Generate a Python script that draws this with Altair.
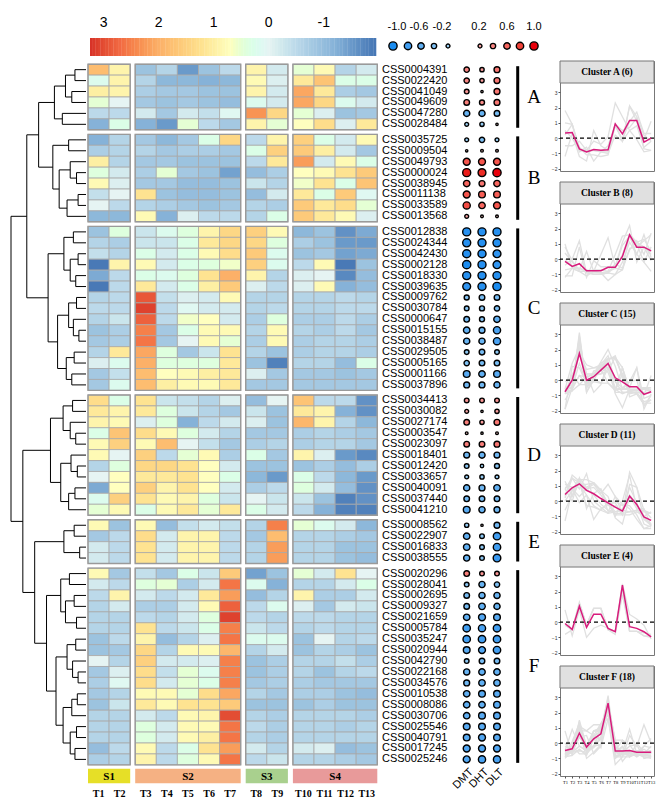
import altair as alt
import pandas as pd
import numpy as np

# ---------------- data ----------------
TIMES = ["T1", "T2", "T3", "T4", "T5", "T6", "T7", "T8", "T9", "T10", "T11", "T12", "T13"]
TIME_GROUP = [0, 0, 1, 1, 1, 1, 1, 2, 2, 3, 3, 3, 3]
GROUPS = ["S1", "S2", "S3", "S4"]
GROUP_COLORS = ["#e6df27", "#f5b183", "#a9d08e", "#e89a9a"]
DOT_COLS = ["DMT", "DHT", "DLT"]
CLUSTERS = ["A", "B", "C", "D", "E", "F"]

GENES_A = ["CSS0004391", "CSS0022420", "CSS0041049", "CSS0049609", "CSS0047280", "CSS0028484"]
HEAT_A = [
    [1.8, 0.9, -0.9, -0.6, -1.5, -0.9, -0.5, 0.9, -0.2, 0.5, 0.8, -0.6, -0.2],
    [0.2, 0.9, -0.6, -1.1, -1.1, -1.2, -1.1, 0.8, -0.1, 1.1, 1.7, 0.3, 0.3],
    [1.0, 0.9, -0.7, -0.8, -0.8, -0.9, -0.9, 0.9, -0.2, 2.1, 1.1, -0.7, -0.8],
    [0.5, 0.0, -0.8, -0.9, -0.8, -0.9, -1.0, 0.2, -0.2, 2.1, 1.4, 0.2, -0.2],
    [-0.5, -0.5, -0.2, -0.8, -0.2, -0.4, 0.1, 2.3, 1.4, 0.5, -0.1, -0.9, -0.8],
    [-1.2, 0.3, -1.2, -1.5, 0.5, -0.5, -0.8, 0.9, 0.5, 0.7, 1.3, -0.1, 1.1],
]
DOTS_A = [[0.4, 0.25, 0.5], [0.4, 0.25, 0.5], [0.3, 0.05, 0.5], [0.45, 0.35, 0.5],
          [-0.55, -0.55, -0.45], [-0.2, -0.25, 0.05]]
MEAN_A = [0.33, 0.37, -0.7, -0.9, -0.74, -0.8, -0.76, 0.93, 0.28, 1.15, 1.15, -0.26, 0.0]

GENES_B = ["CSS0035725", "CSS0009504", "CSS0049793", "CSS0000024", "CSS0038945",
           "CSS0011138", "CSS0033589", "CSS0013568"]
HEAT_B = [
    [-1.2, -0.6, -0.8, -1.1, -0.8, 0.3, 1.4, -0.5, 0.9, 1.5, 0.3, -0.2, 0.8],
    [-0.7, -0.6, -0.6, -0.8, -0.7, -0.7, -0.8, 0.3, 1.5, 1.6, 1.0, -0.2, -0.8],
    [1.0, -0.6, -0.8, -0.8, -0.9, -0.9, -0.9, -0.5, 1.1, 2.2, -0.2, 0.8, 0.3],
    [0.4, -0.2, -0.7, 0.5, -0.8, -0.9, -1.4, -1.0, -0.7, 0.7, 0.8, 1.2, 1.6],
    [0.8, -0.1, -0.8, -0.8, -1.0, -1.0, -0.9, -0.3, -0.6, 0.6, 1.2, 0.3, 1.7],
    [-0.4, 0.0, 1.2, -0.9, -1.0, -1.0, -0.9, -1.0, -0.2, 1.1, 0.3, 1.6, 0.1],
    [0.0, -0.5, -0.6, -0.7, -0.8, -0.9, -0.8, -0.6, -0.7, 1.6, 1.1, 1.3, 0.5],
    [-1.1, -1.1, 0.8, -1.2, -0.1, -0.5, -0.5, -0.6, 0.3, 1.6, 1.1, 0.8, -0.1],
]
DOTS_B = [[-0.2, -0.4, -0.2], [0.05, 0.08, 0.08], [0.7, 0.7, 0.7], [0.95, 0.9, 1.0],
          [0.6, 0.5, 0.6], [0.7, 0.65, 0.65], [0.75, 0.6, 0.7], [0.2, 0.08, 0.08]]
MEAN_B = [-0.15, -0.48, -0.3, -0.76, -0.76, -0.76, -0.54, -0.54, 0.17, 1.59, 0.78, 0.78, 0.54]

GENES_C = ["CSS0012838", "CSS0024344", "CSS0042430", "CSS0002128", "CSS0018330",
           "CSS0039635", "CSS0009762", "CSS0030784", "CSS0000647", "CSS0015155",
           "CSS0038487", "CSS0029505", "CSS0005165", "CSS0001166", "CSS0037896"]
HEAT_C = [
    [-0.9, 0.4, -0.3, 0.2, 0.4, 0.9, 1.4, 1.5, 0.8, -1.1, -0.9, -1.6, -1.3],
    [-0.6, -0.7, -0.3, -0.3, 0.3, 1.1, 1.4, 1.4, 0.4, -0.7, -0.9, -1.5, -1.5],
    [-0.4, -0.6, 0.3, -0.2, 0.3, 0.8, 1.3, 1.6, 0.2, -0.9, -0.8, -1.4, -1.3],
    [-1.9, 0.9, 0.8, -0.2, 0.3, 0.4, 0.6, 1.5, 0.2, -0.5, 0.8, -1.9, -0.9],
    [-1.3, -0.5, 0.3, 0.2, 0.4, 1.2, 2.0, 0.9, -0.6, -0.1, 0.0, -1.7, -1.0],
    [-1.9, -0.5, 1.1, -0.2, 0.3, 1.0, 1.6, -0.1, -0.5, -0.1, 0.8, -1.2, -1.0],
    [-0.6, -0.5, 2.9, -0.4, -0.1, -0.2, 0.8, -0.6, -0.6, -0.6, -0.6, -0.5, -0.6],
    [-0.5, -0.5, 3.1, -0.5, 0.1, -0.2, -0.2, -0.6, -0.5, -0.6, -0.6, -0.5, -0.5],
    [-0.6, -0.3, 2.8, -0.5, 0.6, 0.7, -0.2, -0.7, 0.4, -0.7, -0.7, -0.5, -0.7],
    [-0.9, -0.7, 2.5, -0.8, 0.3, 0.8, 0.8, -0.6, 0.8, -0.6, -0.7, -0.5, -0.8],
    [-0.8, -0.7, 2.6, -0.8, 0.0, 0.8, 0.5, -0.7, 0.8, -0.7, -0.6, -0.6, -0.7],
    [-0.6, 1.1, 2.1, 0.4, -0.8, -0.3, 1.2, -0.6, -0.9, -0.7, -0.6, -0.6, -0.7],
    [-0.1, 0.2, 2.0, 0.4, 0.4, 0.4, 1.1, -0.9, -1.8, -0.6, -0.6, -1.0, 0.3],
    [-0.8, -0.4, 1.8, 0.7, 0.8, 1.0, 1.1, -0.1, -0.8, -0.8, -0.8, -0.9, -0.8],
    [-0.8, 0.2, 1.8, 1.0, 0.8, 0.8, 1.1, -0.8, -0.8, -0.8, -0.8, -0.8, -0.8],
]
DOTS_C = [[-0.95, -0.95, -0.95], [-0.95, -0.95, -0.95], [-0.95, -0.95, -0.9],
          [-1.0, -0.95, -0.9], [-0.95, -0.95, -0.95], [-0.9, -0.95, -1.0],
          [-0.35, -0.45, -0.45], [-0.3, -0.35, -0.4], [-0.45, -0.35, -0.6],
          [-0.6, -0.5, -0.75], [-0.55, -0.55, -0.75], [-0.3, -0.45, -0.3],
          [-0.4, -0.45, -0.45], [-0.65, -0.6, -0.65], [-0.5, -0.5, -0.55]]
MEAN_C = [-0.76, 0.0, 1.74, 0.0, 0.22, 0.65, 1.09, 0.15, -0.11, -0.43, -0.43, -0.93, -0.76]

GENES_D = ["CSS0034413", "CSS0030082", "CSS0027174", "CSS0003547", "CSS0023097",
           "CSS0018401", "CSS0012420", "CSS0033657", "CSS0040091", "CSS0037440", "CSS0041210"]
HEAT_D = [
    [1.3, 0.3, 1.2, -0.3, -0.4, -0.6, -0.1, -1.0, 0.0, 1.7, -0.5, -0.5, -1.6],
    [1.1, 0.9, 1.1, 0.4, -0.3, -0.6, -0.8, -0.3, -0.9, 1.1, 0.9, -1.2, -1.6],
    [0.9, 0.8, -0.1, 0.4, -1.2, -0.5, -0.2, -0.1, -0.9, 1.9, 0.9, -0.6, -1.1],
    [0.3, 1.7, 1.3, 0.8, 0.4, -0.2, -0.6, -0.8, -0.8, -0.7, -0.6, -0.7, -0.8],
    [0.8, 1.5, 0.8, 1.8, 0.0, -0.4, -0.8, -0.7, -0.6, -0.7, -0.6, -0.6, -0.8],
    [0.8, 0.0, 1.5, -0.5, 0.5, 0.8, -0.7, 0.3, -0.8, 0.9, -0.1, -1.5, -1.7],
    [-0.6, 0.4, 1.4, 1.4, 1.2, 0.7, -0.2, -0.9, -0.9, -0.9, -0.7, -1.0, -0.7],
    [0.0, 0.7, 1.1, 1.1, 1.2, 0.7, 0.3, -1.1, -1.5, 0.3, -0.5, -1.1, -1.5],
    [-1.3, 0.7, 1.5, 0.9, 1.2, 0.7, -0.2, -0.7, -0.5, 0.4, -0.2, -1.0, -1.6],
    [0.2, 1.5, 1.2, 0.8, 0.9, 0.4, -0.3, 0.0, -0.3, -0.3, -0.9, -1.8, -1.6],
    [0.5, 0.8, 0.3, 0.8, 1.1, 0.5, 1.1, 0.3, -0.2, -0.5, -1.2, -1.8, -1.8],
]
DOTS_D = [[0.3, 0.3, 0.3], [0.2, 0.05, 0.25], [0.45, 0.25, 0.5], [0.08, 0.05, 0.08],
          [0.45, 0.45, 0.5], [-0.5, -0.55, -0.5], [-0.3, -0.15, -0.35], [-0.2, -0.25, -0.2],
          [-0.55, -0.5, -0.6], [-0.45, -0.45, -0.45], [-0.65, -0.55, -0.5]]
MEAN_D = [0.43, 0.87, 1.13, 0.7, 0.48, 0.17, -0.11, -0.39, -0.65, 0.33, -0.22, -1.04, -1.26]

GENES_E = ["CSS0008562", "CSS0022907", "CSS0016833", "CSS0038555"]
HEAT_E = [
    [0.8, -0.9, 0.8, -1.0, -0.4, -0.2, -0.4, -0.6, 2.5, 0.5, 0.2, -0.2, -1.1],
    [-0.8, -0.5, 1.3, -0.2, 0.9, 0.9, -0.5, -0.8, 1.8, -0.6, -0.6, -0.7, -0.8],
    [-0.2, -0.5, 1.2, -0.2, 0.9, 0.9, -0.5, -0.6, 2.2, -0.6, -0.6, -0.9, -0.9],
    [-0.2, -0.5, 1.2, -0.2, 0.9, 0.9, -0.5, -0.6, 2.2, -0.6, -0.6, -0.9, -1.0],
]
DOTS_E = [[-0.25, 0.05, -0.5], [-0.6, -0.3, -0.8], [-0.6, -0.3, -0.8], [-0.55, -0.3, -0.85]]
MEAN_E = [-0.09, -0.48, 1.04, -0.35, 0.52, 0.52, -0.41, -0.63, 2.41, -0.3, -0.41, -0.63, -0.96]

GENES_F = ["CSS0020296", "CSS0028041", "CSS0002695", "CSS0009327", "CSS0021659",
           "CSS0005784", "CSS0035247", "CSS0020944", "CSS0042790", "CSS0022168",
           "CSS0034576", "CSS0010538", "CSS0008086", "CSS0030706", "CSS0025546",
           "CSS0040791", "CSS0017245", "CSS0025246"]
HEAT_F = [
    [0.8, -0.8, -0.4, -0.8, 0.3, -0.3, 1.6, -1.4, -0.9, 0.5, -0.2, 1.2, 0.0],
    [-0.2, -0.5, 0.4, 0.5, -0.7, -0.2, 2.6, 0.2, -1.2, -0.6, -0.6, -0.2, 0.3],
    [-0.5, 0.9, -0.2, -0.5, -0.2, 1.1, 2.2, -1.0, -0.6, 0.9, -0.7, -0.7, -0.2],
    [-0.6, -0.2, -0.7, -0.7, -0.2, 0.8, 2.8, -0.5, 0.2, -0.1, -0.8, -0.2, -0.3],
    [-0.6, -0.6, -0.5, -0.6, -0.2, 0.4, 3.1, -0.5, -0.6, -0.5, -0.5, -0.6, -0.6],
    [-0.6, -0.6, 1.2, -0.5, -0.3, 0.3, 2.5, -0.3, -0.5, -0.6, -0.5, -0.6, -0.6],
    [-0.9, -0.5, 0.9, -1.0, -0.6, -0.1, 2.6, 0.2, 0.2, -0.9, 0.0, -0.6, -0.5],
    [-0.9, -0.8, 1.4, -0.6, 0.8, 0.8, 1.9, -0.6, -0.2, -0.9, -0.6, -0.7, -0.9],
    [0.0, -0.6, 1.5, -0.2, -0.2, -0.1, 2.5, -0.9, -0.7, -0.6, -0.6, -0.4, -0.7],
    [-0.8, -0.1, 1.3, -0.4, 0.5, 0.2, 2.5, -0.9, -0.7, -0.6, -0.9, -0.6, -0.5],
    [-0.7, 0.1, 1.3, -0.2, 0.5, 0.3, 2.5, -0.8, -0.7, -0.7, -0.8, -0.8, -0.8],
    [-0.8, -0.6, 0.8, 0.8, 0.5, 1.3, 2.1, -0.6, -0.8, -0.7, -0.7, -0.9, -1.0],
    [-0.9, -0.3, 1.1, 0.8, 1.2, 1.2, 1.6, -0.9, -0.9, -0.9, -0.7, -0.9, -0.9],
    [-0.6, -0.6, -0.2, -0.5, 0.8, 0.9, 3.0, -0.6, -0.7, -0.6, -0.6, -0.6, -0.7],
    [-0.6, -0.6, 0.4, -0.2, 0.8, 0.8, 2.6, -0.5, -0.7, -0.6, -0.6, -0.7, -0.6],
    [-0.6, -0.6, 0.4, -0.2, 0.8, 1.0, 2.6, -0.6, -0.7, -0.6, -0.6, -0.6, -0.6],
    [-1.0, -0.5, 0.8, -0.5, 0.3, 1.2, 2.2, -0.2, -0.6, -0.2, -0.1, -1.0, -0.9],
    [-0.7, -0.6, 0.9, -0.5, 0.4, 0.8, 2.6, -0.5, -0.3, -0.6, -0.6, -0.7, -0.8],
]
DOTS_F = [[0.45, 0.3, 0.3], [-0.3, -0.55, -0.4], [-0.45, -0.55, -0.55], [-0.45, -0.6, -0.55],
          [-0.6, -0.7, -0.65], [-0.8, -0.75, -0.8], [-0.8, -0.8, -0.8], [-0.65, -0.7, -0.8],
          [-0.3, -0.45, -0.45], [-0.55, -0.6, -0.6], [-0.5, -0.6, -0.6], [-0.6, -0.65, -0.65],
          [-0.6, -0.6, -0.65], [-0.6, -0.65, -0.65], [-0.65, -0.65, -0.65], [-0.65, -0.7, -0.65],
          [-0.7, -0.7, -0.7], [-0.7, -0.75, -0.75]]
MEAN_F = [-0.48, -0.37, 0.65, -0.26, 0.28, 0.61, 2.61, -0.52, -0.52, -0.48, -0.59, -0.59, -0.59]

# dendrogram topology (row indices, merge heights)
TREE_A = (4.0, (2.6, (1.4, 0, 1), (1.8, 2, 3)), (3.0, 4, 5))
TREE_B = (4.2, (2.2, 6, 7), (3.4, (2.0, 8, (1.2, 9, 10)), (2.4, (1.0, 11, 12), 13)))
TREE_C = (4.8, (2.8, (1.6, 14, 15), (2.0, (1.0, 16, 17), (1.3, 18, 19))),
          (3.6, (2.2, (1.2, 20, 21), (1.6, 22, (0.9, 23, 24))), (2.5, (1.5, 25, 26), (1.8, 27, 28))))
TREE_D = (4.5, (2.9, (1.7, 29, 30), (2.0, 31, (1.3, 32, 33))),
          (3.2, (1.9, 34, (1.1, 35, 36)), (2.2, (1.4, 37, 38), 39)))
TREE_E = (2.8, (1.5, 40, 41), (0.8, 42, 43))
TREE_F = (5.0, (3.2, (2.1, 44, 45), (2.6, (1.5, 46, 47), (1.2, 48, 49))),
          (3.8, (2.4, (1.3, 50, 51), (1.7, 52, (1.0, 53, 54))),
           (2.9, (1.8, (1.1, 55, 56), 57), (2.0, (1.2, 58, 59), (1.4, 60, 61)))))
TREE = (9.5, (7.5, (6.0, TREE_A, TREE_B), TREE_C), (8.0, TREE_D, (6.5, TREE_E, TREE_F)))

COLORBAR_TICKS = [3, 2, 1, 0, -1]
DOT_LEGEND_NEG = [-1.0, -0.8, -0.6, -0.4, -0.2]
DOT_LEGEND_POS = [0.2, 0.4, 0.6, 0.8, 1.0]
DOT_LEGEND_LABELS = ["-1.0", "-0.6", "-0.2", "0.2", "0.6", "1.0"]

# ---------------- layout constants (pixels) ----------------
ROW_H, TOP, GAP = 10.93, 63.2, 4.6
COL_X0, COL_W, COL_GAP = 87.0, 21.1, 5.0
LABEL_X = 381.0
DOT_X = [465.7, 481.0, 496.0]
BAR_X, LETTER_X = 516.7, 533.0
DENDRO_LEAF_X, DENDRO_ROOT_X = 85.0, 10.0
CB_X0, CB_X1, CB_Y0, CB_Y1 = 89.0, 375.0, 37.0, 55.0
CB_V0, CB_V1 = 3.25, -1.95
W_MAIN, H_MAIN = 539, 800
XS = alt.Scale(domain=[8, 8 + W_MAIN], nice=False, zero=False)
YS = alt.Scale(domain=[8, 8 + H_MAIN], nice=False, zero=False, reverse=True)

HEAT_SCALE = alt.Scale(
    domain=[-1.95, -1.2, -0.5, 0.0, 0.7, 1.2, 2.0, 2.7, 3.25],
    range=["#4575b4", "#86b2d8", "#bcd9ea", "#e6f4f3", "#ffffbf", "#fee391", "#fcb068",
           "#f26a43", "#d73027"],
)
DOT_SCALE = alt.Scale(domain=[-1, -0.2, 0, 0.2, 1],
                      range=["#1a8cf0", "#9bcff3", "#ffffff", "#f5a3a3", "#e8000b"])
SIZE_SCALE = alt.Scale(domain=[0, 1], range=[2, 68])

SANS = "Liberation Sans"
SERIF = "Liberation Serif"

cl_data = [
    ("A", GENES_A, HEAT_A, DOTS_A, MEAN_A),
    ("B", GENES_B, HEAT_B, DOTS_B, MEAN_B),
    ("C", GENES_C, HEAT_C, DOTS_C, MEAN_C),
    ("D", GENES_D, HEAT_D, DOTS_D, MEAN_D),
    ("E", GENES_E, HEAT_E, DOTS_E, MEAN_E),
    ("F", GENES_F, HEAT_F, DOTS_F, MEAN_F),
]

col_x = [COL_X0 + j * COL_W + TIME_GROUP[j] * COL_GAP for j in range(13)]

heat_rows, label_rows, dot_rows, long_rows = [], [], [], []
bars, letters, blocks = [], [], []
row_center = {}
gi = 0
for ci, (cname, genes, heat, dots, mean) in enumerate(cl_data):
    c_top = TOP + gi * ROW_H + ci * GAP
    for ri, g in enumerate(genes):
        yt = TOP + gi * ROW_H + ci * GAP
        yc = yt + ROW_H / 2
        row_center[gi] = yc
        for j in range(13):
            heat_rows.append(dict(gene=g, val=heat[ri][j], x=col_x[j], x2=col_x[j] + COL_W,
                                  y=yt, y2=yt + ROW_H))
            long_rows.append(dict(cluster=cname, gene=g, t=j + 1, v=heat[ri][j]))
        label_rows.append(dict(gene=g, x=LABEL_X, y=yc))
        for k in range(3):
            dot_rows.append(dict(gene=g, v=dots[ri][k], x=DOT_X[k], y=yc))
        gi += 1
    c_bot = TOP + gi * ROW_H + ci * GAP
    bars.append(dict(x=BAR_X, y=c_top + 2, y2=c_bot - 2))
    letters.append(dict(t=cname, x=LETTER_X, y=(c_top + c_bot) / 2))
    for gidx in range(4):
        js = [j for j in range(13) if TIME_GROUP[j] == gidx]
        blocks.append(dict(x=col_x[js[0]], x2=col_x[js[-1]] + COL_W, y=c_top, y2=c_bot))

heat_df = pd.DataFrame(heat_rows)
label_df = pd.DataFrame(label_rows)
dot_df = pd.DataFrame(dot_rows)
long_df = pd.DataFrame(long_rows)
bar_df = pd.DataFrame(bars)
letter_df = pd.DataFrame(letters)
block_df = pd.DataFrame(blocks)

# dendrogram segments
HMAX = TREE[0]


def hx(h):
    return DENDRO_LEAF_X - h * (DENDRO_LEAF_X - DENDRO_ROOT_X) / HMAX


segs = []


def walk(node):
    if isinstance(node, int):
        return row_center[node], 0.0
    h, l, r = node
    yl, hl = walk(l)
    yr, hr = walk(r)
    segs.append(dict(x=hx(h), x2=hx(h), y=yl, y2=yr))
    segs.append(dict(x=hx(h), x2=hx(hl), y=yl, y2=yl))
    segs.append(dict(x=hx(h), x2=hx(hr), y=yr, y2=yr))
    return (yl + yr) / 2, h


walk(TREE)
seg_df = pd.DataFrame(segs)

# colour bar
n_cb = 110
cb_edges = np.linspace(CB_X0, CB_X1, n_cb + 1)
cb_mid = (cb_edges[:-1] + cb_edges[1:]) / 2
cb_df = pd.DataFrame({
    "x": cb_edges[:-1], "x2": cb_edges[1:] + 0.3, "y": CB_Y0, "y2": CB_Y1,
    "val": CB_V0 + (CB_V1 - CB_V0) * ((cb_mid - CB_X0) / (CB_X1 - CB_X0)),
})
cb_lab_df = pd.DataFrame({
    "t": [str(v) for v in COLORBAR_TICKS],
    "x": [CB_X0 + (CB_V0 - v) / (CB_V0 - CB_V1) * (CB_X1 - CB_X0) for v in COLORBAR_TICKS],
    "y": 22.0,
})

# dot legend
dl_df = pd.DataFrame({
    "v": DOT_LEGEND_NEG + DOT_LEGEND_POS,
    "x": [392, 407, 420, 433, 447, 479, 492, 506, 519, 533],
    "y": 45.0,
})
dl_lab_df = pd.DataFrame({"t": DOT_LEGEND_LABELS, "x": [396, 418, 441, 478, 506, 533], "y": 26.0})

# group header boxes / time labels
grp_rows = []
for gidx, gname in enumerate(GROUPS):
    js = [j for j in range(13) if TIME_GROUP[j] == gidx]
    grp_rows.append(dict(g=gname, x=col_x[js[0]], x2=col_x[js[-1]] + COL_W, y=767.7, y2=782.3,
                         xc=(col_x[js[0]] + col_x[js[-1]] + COL_W) / 2, yc=775.5))
grp_df = pd.DataFrame(grp_rows)
tlab_df = pd.DataFrame({"t": TIMES, "x": [c + COL_W / 2 for c in col_x], "y": 792.5})
dotlab_df = pd.DataFrame({"t": DOT_COLS, "x": [x + 5 for x in DOT_X], "y": 769.5})


def X(f="x"):
    return alt.X(f"{f}:Q", scale=XS, axis=None)


def Y(f="y"):
    return alt.Y(f"{f}:Q", scale=YS, axis=None)


layers = []
# dendrogram
layers.append(alt.Chart(seg_df).mark_rule(color="black", strokeWidth=1).encode(
    x=X(), x2="x2:Q", y=Y(), y2="y2:Q"))
# heatmap
layers.append(alt.Chart(heat_df).mark_rect(stroke="#a8a8a8", strokeWidth=0.8).encode(
    x=X(), x2="x2:Q", y=Y(), y2="y2:Q",
    color=alt.Color("val:Q", scale=HEAT_SCALE, legend=None)))
layers.append(alt.Chart(block_df).mark_rect(fill="transparent", stroke="#9a9a9a", strokeWidth=1.4).encode(
    x=X(), x2="x2:Q", y=Y(), y2="y2:Q"))
# colour bar
layers.append(alt.Chart(cb_df).mark_rect().encode(
    x=X(), x2="x2:Q", y=Y(), y2="y2:Q",
    color=alt.Color("val:Q", scale=HEAT_SCALE, legend=None)))
layers.append(alt.Chart(cb_lab_df).mark_text(font=SANS, fontSize=14).encode(
    x=X(), y=Y(), text="t:N"))
# gene labels
layers.append(alt.Chart(label_df).mark_text(font=SANS, fontSize=11, align="left", baseline="middle").encode(
    x=X(), y=Y(), text="gene:N"))
# dots
layers.append(alt.Chart(dot_df).transform_calculate(a="abs(datum.v)").mark_circle(
    stroke="black", strokeWidth=1.4, opacity=1).encode(
    x=X(), y=Y(),
    fill=alt.Fill("v:Q", scale=DOT_SCALE, legend=None),
    size=alt.Size("a:Q", scale=SIZE_SCALE, legend=None)))
layers.append(alt.Chart(dl_df).transform_calculate(a="abs(datum.v)").mark_circle(
    stroke="black", strokeWidth=1.4, opacity=1).encode(
    x=X(), y=Y(),
    fill=alt.Fill("v:Q", scale=DOT_SCALE, legend=None),
    size=alt.Size("a:Q", scale=SIZE_SCALE, legend=None)))
layers.append(alt.Chart(dl_lab_df).mark_text(font=SANS, fontSize=11).encode(
    x=X(), y=Y(), text="t:N"))
layers.append(alt.Chart(dotlab_df).mark_text(font=SANS, fontSize=11, angle=315, align="right",
                                             baseline="middle").encode(x=X(), y=Y(), text="t:N"))
# cluster bars + letters
layers.append(alt.Chart(bar_df).mark_rule(color="black", strokeWidth=3).encode(
    x=X(), y=Y(), y2="y2:Q"))
layers.append(alt.Chart(letter_df).mark_text(font=SERIF, fontSize=19, baseline="middle").encode(
    x=X(), y=Y(), text="t:N"))
# group headers
for gidx in range(4):
    layers.append(alt.Chart(grp_df.iloc[[gidx]]).mark_rect(fill=GROUP_COLORS[gidx]).encode(
        x=X(), x2="x2:Q", y=Y(), y2="y2:Q"))
layers.append(alt.Chart(grp_df).mark_text(font=SERIF, fontSize=11, fontWeight="bold").encode(
    x=X("xc"), y=Y("yc"), text="g:N"))
layers.append(alt.Chart(tlab_df).mark_text(font=SERIF, fontSize=10, fontWeight="bold").encode(
    x=X(), y=Y(), text="t:N"))

main = alt.layer(*layers).properties(width=W_MAIN, height=H_MAIN)

# ---------------- cluster trend panels ----------------
P_W, P_H = 94, 110
XP = alt.Scale(domain=[0.3, 13.4], nice=False, zero=False)
YP = alt.Scale(domain=[-2.15, 5.04], nice=False, zero=False)
Y_AX = alt.Axis(values=[-2, -1, 0, 1, 2, 3], labelFontSize=5, tickSize=2, labelPadding=1,
                grid=False, title=None, domain=False, minExtent=10, maxExtent=10,
                labelColor="#333", tickColor="#555", labelFont=SANS)


def panel(cname, genes, mean, last):
    if last:
        xax = alt.Axis(values=list(range(1, 14)), labelExpr="'T' + datum.value", labelFontSize=4.5,
                       tickSize=2, labelPadding=1, grid=False, title=None, domain=False,
                       labelOverlap=False, labelAngle=0, labelFont=SERIF, tickColor="#555")
    else:
        xax = None
    sub = long_df[long_df.cluster == cname]
    mdf = pd.DataFrame({"t": list(range(1, 14)), "v": mean})
    hdr = pd.DataFrame({"x": [0.3], "x2": [13.4], "y": [3.6], "y2": [5.04]})
    grey = alt.Chart(sub).mark_line(color="#e0e0e0", strokeWidth=1.3, clip=True).encode(
        x=alt.X("t:Q", scale=XP, axis=xax), y=alt.Y("v:Q", scale=YP, axis=Y_AX), detail="gene:N")
    zero = alt.Chart(pd.DataFrame({"z": [0]})).mark_rule(color="black", strokeDash=[4, 3],
                                                          strokeWidth=1.2).encode(
        y=alt.Y("z:Q", scale=YP, axis=Y_AX))
    mline = alt.Chart(mdf).mark_line(color="#d81b7c", strokeWidth=1.5).encode(
        x=alt.X("t:Q", scale=XP, axis=xax), y=alt.Y("v:Q", scale=YP, axis=Y_AX))
    hrect = alt.Chart(hdr).mark_rect(fill="#e0e0e0", stroke="#777777", strokeWidth=1).encode(
        x=alt.X("x:Q", scale=XP, axis=xax), x2="x2:Q", y=alt.Y("y:Q", scale=YP, axis=Y_AX), y2="y2:Q")
    htext = alt.Chart(pd.DataFrame({"t": [f"Cluster {cname} ({len(genes)})"], "x": [6.85], "y": [4.32]})
                      ).mark_text(font=SERIF, fontSize=9.5, fontWeight="bold", baseline="middle").encode(
        x=alt.X("x:Q", scale=XP, axis=xax), y=alt.Y("y:Q", scale=YP, axis=Y_AX), text="t:N")
    return alt.layer(grey, zero, mline, hrect, htext).properties(
        width=P_W, height=P_H, view=alt.ViewBackground(stroke="#777777", strokeWidth=1))


spacer = alt.Chart(pd.DataFrame({"a": [0]})).mark_point(opacity=0).properties(width=P_W, height=43)
panels = [spacer] + [panel(c[0], c[1], c[4], i == len(cl_data) - 1) for i, c in enumerate(cl_data)]
right = alt.vconcat(*panels, spacing=8)

chart = alt.hconcat(main, right, spacing=0).properties(
    padding={"left": 0, "top": 0, "right": 0, "bottom": 0}
).configure_view(stroke="transparent")

chart.save("out.html", embed_options={"renderer": "svg", "actions": False})
